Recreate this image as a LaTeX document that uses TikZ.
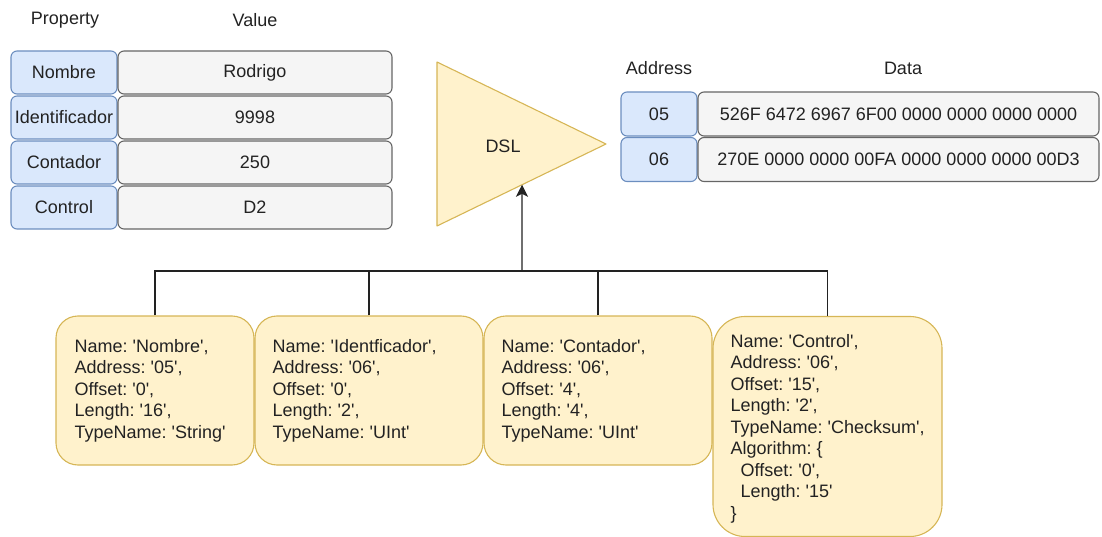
\documentclass[tikz,border=0pt]{standalone}
\usepackage{fontspec}
\setmainfont{Liberation Sans}
\usetikzlibrary{arrows.meta,calc}
\definecolor{blueF}{HTML}{DAE8FC}
\definecolor{blueD}{HTML}{6C8EBF}
\definecolor{grayF}{HTML}{F5F5F5}
\definecolor{grayD}{HTML}{666666}
\definecolor{yelF}{HTML}{FFF2CC}
\definecolor{yelD}{HTML}{D6B656}
\definecolor{ink}{HTML}{222222}
\newcommand{\qt}{\textquotesingle}
\tikzset{
  cell/.style={draw, line width=1.1pt, rounded corners=6pt, inner sep=0pt,
    minimum height=43pt, text=ink},
  keycell/.style={cell, fill=blueF, draw=blueD},
  valcell/.style={cell, fill=grayF, draw=grayD},
  head/.style={text=ink, inner sep=0pt},
  spec/.style={draw=yelD, fill=yelF, line width=1.1pt, rounded corners=22pt, inner sep=0pt},
  spectext/.style={anchor=west, align=left, inner sep=0pt, text=ink},
  wire/.style={draw=ink, line width=1.1pt}
}
\begin{document}
\frenchspacing
\begin{tikzpicture}[x=1pt,y=-1pt,font=\fontsize{18}{21.5}\selectfont\frenchspacing]
\useasboundingbox (0,0) rectangle (1102,537);

% property / value table
\node[head] (hp) at (65,20) {Property};
\node[head] (hv) at (255,20) {Value};
\node[keycell, minimum width=106pt] (p1) at (64,72.5) {Nombre};
\node[valcell, minimum width=274pt] (v1) at (255,72.5) {Rodrigo};
\node[keycell, minimum width=106pt] (p2) at (64,117.5) {Identificador};
\node[valcell, minimum width=274pt] (v2) at (255,117.5) {9998};
\node[keycell, minimum width=106pt] (p3) at (64,162.5) {Contador};
\node[valcell, minimum width=274pt] (v3) at (255,162.5) {250};
\node[keycell, minimum width=106pt] (p4) at (64,207.5) {Control};
\node[valcell, minimum width=274pt] (v4) at (255,207.5) {D2};

% DSL block
\coordinate (tA) at (437,62);
\coordinate (tB) at (606,144);
\coordinate (tC) at (437,226);
\draw[draw=yelD, fill=yelF, line width=1.1pt, line join=round] (tA) -- (tB) -- (tC) -- cycle;
\node[text=ink] (dsl) at (503,146) {DSL};
\coordinate (dslin) at ($(tC)!{(522-437)/169}!(tB)$);

% address / data table
\node[head] (ha) at (659,68) {Address};
\node[head] (hd) at (903,68) {Data};
\node[keycell, minimum width=76pt, minimum height=44pt] (a1) at (659,114) {05};
\node[valcell, minimum width=401pt, minimum height=44pt] (d1) at (898.5,114) {526F 6472 6967 6F00 0000 0000 0000 0000};
\node[keycell, minimum width=76pt, minimum height=44pt] (a2) at (659,159.5) {06};
\node[valcell, minimum width=401pt, minimum height=44pt] (d2) at (898.5,159.5) {270E 0000 0000 00FA 0000 0000 0000 00D3};

% field specifications
\node[spec, minimum width=198pt, minimum height=149pt] (s1) at (155,390.5) {};
\node[spec, minimum width=228pt, minimum height=149pt] (s2) at (369,390.5) {};
\node[spec, minimum width=228pt, minimum height=149pt] (s3) at (598,390.5) {};
\node[spec, minimum width=229pt, minimum height=220pt, rounded corners=32pt] (s4) at (827.5,426.5) {};

\node[spectext] (t1) at ($(s1.west)+(19,0)$)
  {Name: \qt Nombre\qt,\\Address: \qt 05\qt,\\Offset: \qt 0\qt,\\Length: \qt 16\qt,\\TypeName: \qt String\qt};
\node[spectext] (t2) at ($(s2.west)+(18,0)$)
  {Name: \qt Identficador\qt,\\Address: \qt 06\qt,\\Offset: \qt 0\qt,\\Length: \qt 2\qt,\\TypeName: \qt UInt\qt};
\node[spectext] (t3) at ($(s3.west)+(18,0)$)
  {Name: \qt Contador\qt,\\Address: \qt 06\qt,\\Offset: \qt 4\qt,\\Length: \qt 4\qt,\\TypeName: \qt UInt\qt};
\node[spectext] (t4) at ($(s4.west)+(18,2)$)
  {Name: \qt Control\qt,\\Address: \qt 06\qt,\\Offset: \qt 15\qt,\\Length: \qt 2\qt,\\TypeName: \qt Checksum\qt,\\Algorithm: \{\\\hspace*{10pt}Offset: \qt 0\qt,\\\hspace*{10pt}Length: \qt 15\qt\\\}};

% connectors
\coordinate (bus) at (522,271);
\draw[wire] (s1.north) -- (s1.north |- bus) -- (s4.north |- bus) -- (s4.north);
\draw[wire] (s2.north) -- (s2.north |- bus);
\draw[wire] (s3.north) -- (s3.north |- bus);
\draw[wire, -{Stealth[length=12pt,width=12pt,inset=3pt]}] (bus) -- (dslin);
\end{tikzpicture}
\end{document}
